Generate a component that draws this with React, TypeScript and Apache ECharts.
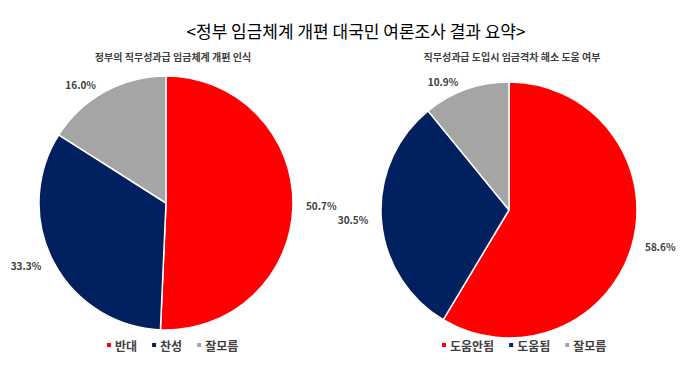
import React, { useEffect, useRef } from "react";
import * as echarts from "echarts";

const mainTitle = "<정부 임금체계 개편 대국민 여론조사 결과 요약>";
const leftTitle = "정부의 직무성과급 임금체계 개편 인식";
const rightTitle = "직무성과급 도입시 임금격차 해소 도움 여부";
const leftNames = ["반대", "찬성", "잘모름"];
const leftValues = [50.7, 33.3, 16.0];
const rightNames = ["도움안됨", "도움됨", "잘모름"];
const rightValues = [58.6, 30.5, 10.9];
const colors = ["#FF0000", "#002060", "#A5A5A5"];

const FONT = "'Noto Sans CJK KR', 'Noto Sans', sans-serif";

export default function App() {
  const ref = useRef<HTMLDivElement>(null);
  useEffect(() => {
    document.body.style.margin = "0";
    const chart = echarts.init(ref.current!, undefined, { renderer: "svg" });
    const mk = (names: string[], vals: number[]) =>
      names.map((n, i) => ({ name: n, value: vals[i], itemStyle: { color: colors[i] } }));
    const label = {
      show: true,
      position: "outside" as const,
      formatter: (p: any) => p.value.toFixed(1) + "%",
      fontFamily: FONT,
      fontSize: 10,
      fontWeight: "bold" as const,
      color: "#404040",
      overflow: "none" as const,
    };
    const legendText = { fontFamily: FONT, fontSize: 12, fontWeight: "bold", color: "#404040", padding: [0, 0, 0, -2] };
    chart.setOption({
      animation: false,
      backgroundColor: "#ffffff",
      title: [
        {
          text: mainTitle,
          left: 351,
          top: 17,
          textAlign: "center",
          textStyle: { fontFamily: FONT, fontSize: 17, fontWeight: "normal", color: "#000" },
        },
        {
          text: leftTitle,
          left: 168,
          top: 46,
          textAlign: "center",
          textStyle: { fontFamily: FONT, fontSize: 10, fontWeight: "bold", color: "#404040" },
        },
        {
          text: rightTitle,
          left: 507,
          top: 46,
          textAlign: "center",
          textStyle: { fontFamily: FONT, fontSize: 10, fontWeight: "bold", color: "#404040" },
        },
      ],
      legend: [
        {
          data: leftNames,
          left: 100,
          top: 334,
          icon: "rect",
          itemWidth: 6,
          itemHeight: 6,
          itemGap: 13,
          textStyle: legendText,
        },
        {
          data: rightNames,
          left: 435,
          top: 334,
          icon: "rect",
          itemWidth: 6,
          itemHeight: 6,
          itemGap: 13,
          textStyle: legendText,
        },
      ],
      series: [
        {
          type: "pie",
          center: [166, 203],
          radius: 127,
          startAngle: 90,
          clockwise: true,
          data: mk(leftNames, leftValues),
          itemStyle: { borderColor: "#fff", borderWidth: 1.5 },
          label,
          labelLine: { show: false, length: 8, length2: 0 },
          emphasis: { disabled: true },
        },
        {
          type: "pie",
          center: [509, 210],
          radius: 128,
          startAngle: 90,
          clockwise: true,
          data: mk(rightNames, rightValues),
          itemStyle: { borderColor: "#fff", borderWidth: 1.5 },
          label,
          labelLine: { show: false, length: 8, length2: 0 },
          emphasis: { disabled: true },
        },
      ],
    });
    return () => chart.dispose();
  }, []);
  return <div ref={ref} style={{ width: 680, height: 365 }} />;
}
